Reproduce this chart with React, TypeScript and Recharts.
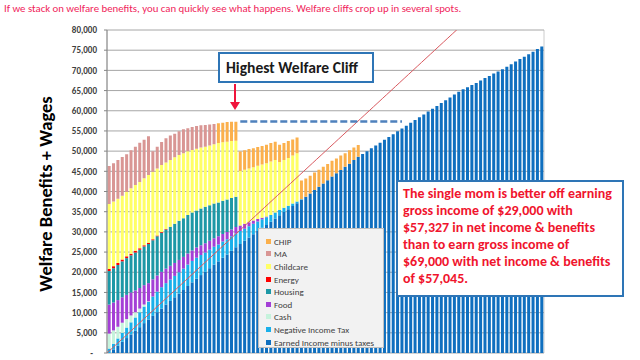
import React from 'react';
import {
  ComposedChart,
  Bar,
  Line,
  XAxis,
  YAxis,
  CartesianGrid,
  ReferenceLine,
  Legend,
} from 'recharts';

// gross income, $ thousands (one bar each)
const incomeK = [
  0, 1, 2, 3, 4, 5, 6, 7, 8, 9, 10, 11, 12, 13, 14, 15, 16, 17, 18, 19,
  20, 21, 22, 23, 24, 25, 26, 27, 28, 29, 30, 31, 32, 33, 34, 35, 36, 37, 38, 39,
  40, 41, 42, 43, 44, 45, 46, 47, 48, 49, 50, 51, 52, 53, 54, 55, 56, 57, 58, 59,
  60, 61, 62, 63, 64, 65, 66, 67, 68, 69, 70, 71, 72, 73, 74, 75, 76, 77, 78, 79,
  80, 81, 82, 83, 84, 85, 86, 87, 88, 89, 90, 91, 92, 93, 94, 95, 96, 97, 98, 99,
];

const earned = [
  0, 900, 1800, 2800, 3700, 4600, 5500, 6400, 7400, 8300, 9200, 10100, 11000, 12000, 12900, 13800, 14700, 15600, 16600, 17500,
  18400, 19300, 20100, 21000, 21900, 22700, 23600, 24400, 25300, 26200, 27000, 27800, 28600, 29400, 30200, 31000, 31700, 32500, 33300, 34100,
  34900, 35600, 36400, 37100, 37900, 38700, 39500, 40400, 41200, 42000, 42800, 43700, 44500, 45300, 46100, 46900, 47800, 48600, 49300, 50000,
  50700, 51400, 52100, 52800, 53500, 54200, 54900, 55600, 56300, 57045, 57700, 58400, 59100, 59800, 60500, 61200, 61900, 62600, 63300, 64000,
  64700, 65300, 65800, 66400, 66900, 67500, 68100, 68600, 69200, 69700, 70300, 70900, 71500, 72200, 72800, 73400, 74000, 74600, 75300, 75900,
];
const negTax = [
  1100, 1400, 1800, 2200, 2600, 3000, 3300, 3700, 4100, 4400,
  4800, 5100, 5300, 5300, 5300, 5300, 5300, 5300, 5300, 5300,
  5200, 5000, 4800, 4600, 4400, 4200, 4000, 3800, 3600, 3400,
  3200, 3000, 2800, 2600, 2400, 2100, 1900, 1700, 1500, 1300,
  1100, 900, 600, 400, 200,
];
const cash = [3700, 3300, 2900, 2500, 2100, 1700, 1300, 900, 500, 100];
const food = [
  7200, 6900, 6600, 6300, 6000, 5700, 5400, 5100, 4800, 4500,
  4250, 4000, 3800, 3600, 3400, 3200, 3050, 2900, 2750, 2600,
  2500, 2400, 2300, 2200, 2100, 2000, 1900, 1800, 1700, 1600,
  1400, 1200, 1000, 800, 600, 400, 200,
];
const housing = [
  8300, 8500, 8700, 8900, 9100, 9200, 9400, 9500, 9600, 9700,
  9700, 9700, 9700, 9700, 9700, 9700, 9700, 9600, 9500, 9400,
  9200, 9100, 9000, 8800, 8600, 8400, 8200, 8000, 7800, 7500,
];
const energy = [500, 500, 500, 450, 450, 400, 400, 350, 300, 300, 250, 200, 150, 100];
const childcare = [
  16100, 16000, 15900, 15800, 16000, 16200, 16300, 16400, 16600, 16800,
  16700, 16600, 16600, 16500, 16500, 16500, 16300, 16100, 15800, 15500,
  15300, 15100, 14900, 14800, 14700, 14700, 14500, 14300, 14100, 13900,
  13500, 13400, 13300, 13200, 13200, 13200, 13200, 13200, 13000, 11900,
  11800, 11800, 11900, 12000,
];
const ma = [
  9400, 9500, 9600, 9600, 9300, 9400, 9500, 9700, 9500, 9600,
  5100, 5400, 5700, 6000, 6100, 5800, 5900, 5900, 5700, 5700,
  5600, 5500, 5400, 5200, 5000,
];
const chip = [
  0, 0, 0, 0, 0, 0, 0, 0, 0, 0, 0, 0, 0, 0, 0, 0, 0, 0, 0, 0, 0, 0, 0, 0, 0,
  4900, 4800, 4900, 4800, 4700,
  4800, 4800, 4800, 4700, 4600, 4600, 4600, 4600, 4500, 4300, 4200, 4200, 4000, 3900,
  4600, 4500, 4400, 4300, 4200, 4100, 4000, 3900, 3700, 3600, 3400, 3300, 3100, 2900,
];

const yTicks = [0, 5000, 10000, 15000, 20000, 25000, 30000, 35000, 40000, 45000, 50000, 55000, 60000, 65000, 70000, 75000, 80000];
const xTicks = [0, 5, 10, 15, 20, 25, 30, 35, 40, 45, 50, 55, 60, 65, 70, 75, 80, 85, 90, 95, 100];

// bottom -> top of the stack
const series = [
  { key: 'earned', name: 'Earned Income minus taxes', color: '#0f6fbf', values: earned },
  { key: 'negTax', name: 'Negative Income Tax', color: '#1ab0ea', values: negTax },
  { key: 'cash', name: 'Cash', color: '#c6f3dc', values: cash },
  { key: 'food', name: 'Food', color: '#a43fd6', values: food },
  { key: 'housing', name: 'Housing', color: '#1d98a6', values: housing },
  { key: 'energy', name: 'Energy', color: '#ff0000', values: energy },
  { key: 'childcare', name: 'Childcare', color: '#ffff66', values: childcare },
  { key: 'ma', name: 'MA', color: '#d99694', values: ma },
  { key: 'chip', name: 'CHIP', color: '#fbb04c', values: chip },
];

const data = incomeK.map((k, i) => {
  const row: Record<string, number> = { income: k, gross: k * 1000 };
  series.forEach((s) => {
    row[s.key] = s.values[i] ?? 0;
  });
  return row;
});

const FONT = "Carlito, Lato, 'Liberation Sans', sans-serif";

const fmtY = (v: number) => (v === 0 ? '-\u00a0\u00a0' : v.toLocaleString('en-US'));

const renderLegend = () => (
  <div
    style={{
      width: 126,
      height: 120,
      boxSizing: 'border-box',
      background: '#f2f2f2',
      border: '1px solid #bfbfbf',
      padding: '6px 0 0 7px',
      fontFamily: FONT,
      fontSize: 9,
      color: '#404040',
    }}
  >
    {[...series].reverse().map((s) => (
      <div key={s.key} style={{ display: 'flex', alignItems: 'center', height: 12.6, whiteSpace: 'nowrap' }}>
        <span style={{ width: 5, height: 5, background: s.color, marginRight: 3, flex: 'none' }} />
        {s.name}
      </div>
    ))}
  </div>
);

export default function App() {
  return (
    <div style={{ position: 'absolute', left: 0, top: 0, width: 640, height: 360, background: '#fff', overflow: 'hidden' }}>
      <div style={{ position: 'absolute', left: 4, top: 2, fontFamily: FONT, fontSize: 10.8, color: '#f0245a', whiteSpace: 'nowrap' }}>
        If we stack on welfare benefits, you can quickly see what happens. Welfare cliffs crop up in several spots.
      </div>

      <div style={{ position: 'absolute', left: 0, top: 0 }}>
        <ComposedChart
          width={640}
          height={360}
          data={data}
          margin={{ top: 30, right: 96, bottom: 0, left: 0 }}
          barCategoryGap="15%"
        >
          <CartesianGrid xAxisId="num" horizontal={false} stroke="#cccccc" />
          <CartesianGrid xAxisId="num" vertical={false} stroke="#a6a6a6" />
          <XAxis xAxisId="cat" dataKey="income" type="category" hide />
          <XAxis
            xAxisId="num"
            dataKey="income"
            type="number"
            domain={[0, 100]}
            allowDataOverflow
            ticks={xTicks}
            tick={false}
            tickSize={4}
            height={7}
            stroke="#868686"
          />
          <YAxis
            domain={[0, 80000]}
            allowDataOverflow
            ticks={yTicks}
            interval={0}
            width={107}
            tickFormatter={fmtY}
            tickSize={3}
            tickMargin={7}
            stroke="#868686"
            tick={{ fill: '#404040', fontSize: 9, fontWeight: 700, fontFamily: FONT }}
          />
          {series.map((s) => (
            <Bar
              key={s.key}
              xAxisId="cat"
              dataKey={s.key}
              name={s.name}
              stackId="stack"
              fill={s.color}
              isAnimationActive={false}
            />
          ))}
          <Line
            xAxisId="num"
            dataKey="gross"
            stroke="#d9595f"
            strokeWidth={1}
            dot={false}
            activeDot={false}
            legendType="none"
            isAnimationActive={false}
          />
          <ReferenceLine
            xAxisId="cat"
            segment={[{ x: 30, y: 57327 }, { x: 67, y: 57327 }]}
            stroke="#4f81bd"
            strokeWidth={2.5}
            strokeDasharray="7 3"
          />
          <Legend
            layout="vertical"
            align="center"
            verticalAlign="middle"
            wrapperStyle={{ left: 258, top: 228, width: 126, height: 120 }}
            content={renderLegend}
          />
        </ComposedChart>
      </div>

      <div
        style={{
          position: 'absolute',
          left: 45,
          top: 194,
          transform: 'translate(-50%, -50%) rotate(-90deg)',
          fontFamily: FONT,
          fontWeight: 700,
          fontSize: 18.5,
          color: '#000',
          whiteSpace: 'nowrap',
        }}
      >
        Welfare Benefits + Wages
      </div>

      <div
        style={{
          position: 'absolute',
          left: 218,
          top: 52,
          width: 156,
          height: 31,
          boxSizing: 'border-box',
          border: '2px solid #2e75b6',
          background: '#fff',
          padding: '0 0 0 6px',
          lineHeight: '27px',
          fontFamily: FONT,
          fontWeight: 700,
          fontSize: 15.6,
          color: '#1a1a1a',
          whiteSpace: 'nowrap',
        }}
      >
        Highest Welfare Cliff
      </div>
      <svg style={{ position: 'absolute', left: 226, top: 83 }} width={18} height={30}>
        <line x1={9} y1={1} x2={9} y2={20} stroke="#f0143c" strokeWidth={2} />
        <polygon points="4,19 14,19 9,27" fill="#f0143c" />
      </svg>

      <div
        style={{
          position: 'absolute',
          left: 396,
          top: 180,
          width: 228,
          height: 117,
          boxSizing: 'border-box',
          border: '2px solid #2e75b6',
          background: '#fff',
          padding: '3px 0 0 5px',
          fontFamily: FONT,
          fontWeight: 700,
          fontSize: 14,
          lineHeight: '17px',
          color: '#f0142d',
          whiteSpace: 'nowrap',
        }}
      >
        The single mom is better off earning
        <br />
        gross income of $29,000 with
        <br />
        $57,327 in net income &amp; benefits
        <br />
        than to earn gross income of
        <br />
        $69,000 with net income &amp; benefits
        <br />
        of $57,045.
      </div>
    </div>
  );
}
